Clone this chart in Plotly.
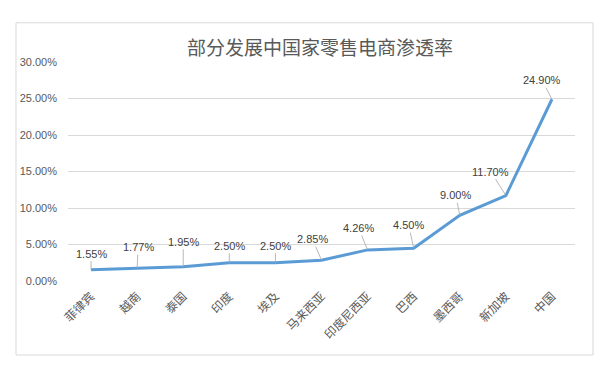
import plotly.graph_objects as go

title = "部分发展中国家零售电商渗透率"
categories = ["菲律宾", "越南", "泰国", "印度", "埃及", "马来西亚", "印度尼西亚", "巴西", "墨西哥", "新加坡", "中国"]
values = [0.0155, 0.0177, 0.0195, 0.0250, 0.0250, 0.0285, 0.0426, 0.0450, 0.0900, 0.1170, 0.2490]
y_ticks = [0, 0.05, 0.10, 0.15, 0.20, 0.25, 0.30]

# label offsets (pixels) for the data-label callouts
label_dx = [0, 1, 0, 0, 0, -9, -9, -5, -4, -15, -10]
label_dy = [-16, -21, -25, -17, -17, -21, -22, -23, -20, -24, -19]

fig = go.Figure()
fig.add_trace(go.Scatter(
    x=categories, y=values, mode="lines",
    line=dict(color="#5B9BD5", width=3, shape="linear"),
    hoverinfo="skip", showlegend=False,
))

for c, v, dx, dy in zip(categories, values, label_dx, label_dy):
    fig.add_annotation(
        x=c, y=v, xref="x", yref="y",
        text=f"{v:.2%}", showarrow=True, arrowhead=0, arrowwidth=0.8,
        arrowcolor="#A6A6A6", ax=dx, ay=dy, standoff=0,
        font=dict(family="Liberation Sans, Noto Sans", size=11, color="#404040"),
        borderpad=1,
    )

# chart-area border
fig.add_shape(type="rect", xref="paper", yref="paper",
              x0=-0.1026, x1=1.0355, y0=-0.338, y1=1.179,
              line=dict(color="#D9D9D9", width=1), fillcolor="rgba(0,0,0,0)", layer="below")

fig.update_layout(
    width=613, height=374,
    margin=dict(l=68, r=38, t=62, b=93),
    paper_bgcolor="white", plot_bgcolor="white",
    title=dict(text=title, x=0.497, xref="paper", xanchor="center", y=0.87, yanchor="middle",
               font=dict(family="Noto Sans CJK SC", size=19, color="#595959")),
    xaxis=dict(type="category", range=[-0.5, 10.5], showgrid=False, showline=False,
               zeroline=False, tickangle=-45, ticks="", ticklabelstandoff=5,
               tickfont=dict(family="Noto Sans CJK SC", size=12, color="#595959")),
    yaxis=dict(range=[0, 0.30], tickvals=y_ticks, tickformat=".2%", showgrid=True,
               gridcolor="#D9D9D9", gridwidth=1, zeroline=False, showline=False,
               ticks="", ticklabelstandoff=10,
               tickfont=dict(family="Liberation Sans, Noto Sans", size=11, color="#595959")),
)

fig.write_html("out.html", config={"displayModeBar": False},
               post_script="document.body.style.margin='0px';document.body.style.overflow='hidden';")
